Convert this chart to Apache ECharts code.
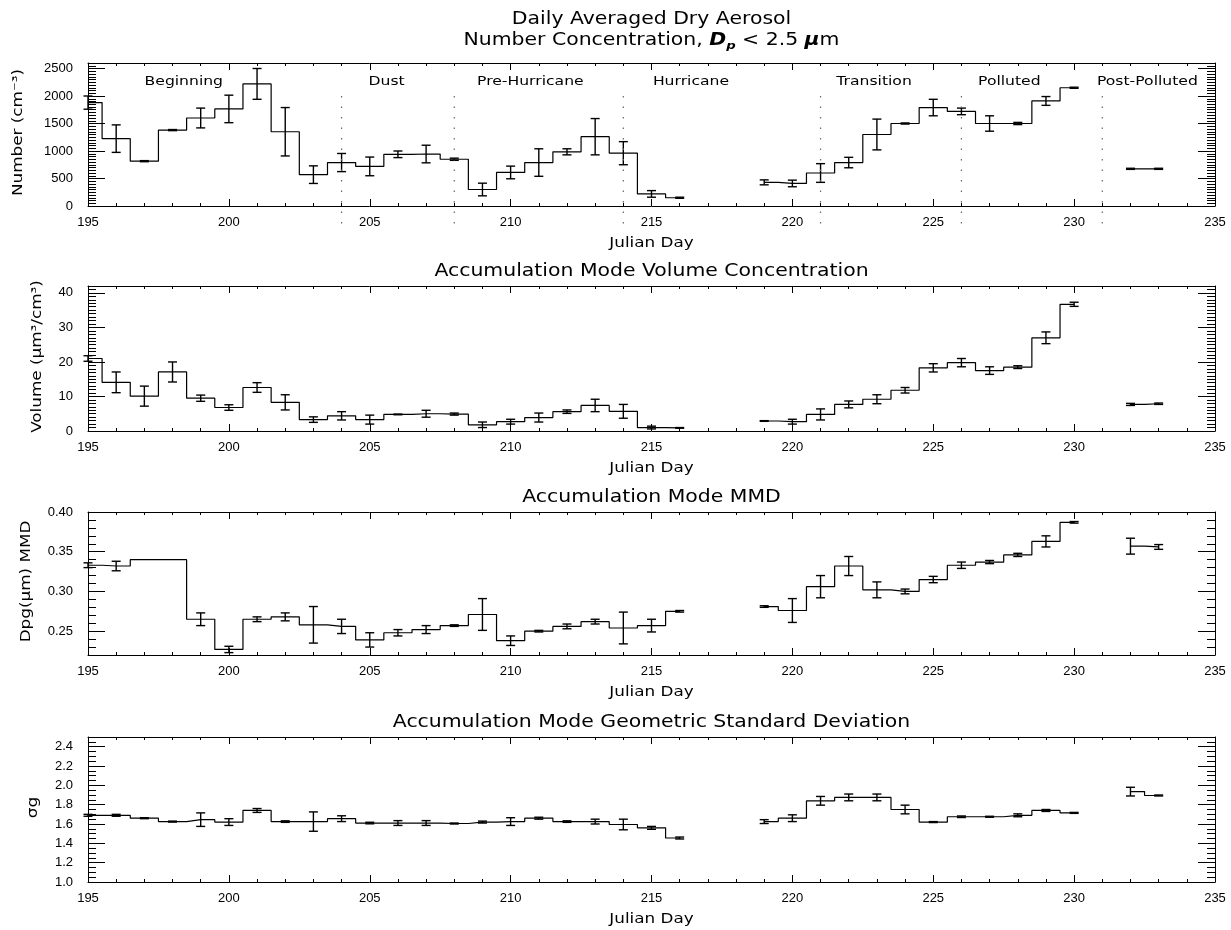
<!DOCTYPE html>
<html>
<head>
<meta charset="utf-8">
<title>Daily Averaged Dry Aerosol</title>
<script src="https://cdn.jsdelivr.net/npm/echarts@6/dist/echarts.min.js"></script>
<style>
  html, body { margin: 0; padding: 0; background: #fff; }
  #chart { width: 1231px; height: 930px; }
</style>
</head>
<body>
<div id="chart"></div>
<script>
// ---- Data: Julian day and daily averages (null = no sample that day) ----
const days = [195, 196, 197, 198, 199, 200, 201, 202, 203, 204, 205, 206, 207, 208, 209, 210,
              211, 212, 213, 214, 215, 216, 217, 218, 219, 220, 221, 222, 223, 224, 225, 226,
              227, 228, 229, 230, 231, 232, 233];

// Number concentration, Dp < 2.5 um (cm^-3)
const numberConc = [1880, 1225, 815, 1380, 1600, 1765, 2220, 1350, 570, 790, 720, 940, 945, 850, 300, 610,
                    790, 985, 1260, 960, 220, 150, null, null, 430, 410, 600, 790, 1300, 1500, 1790, 1720,
                    1500, 1500, 1910, 2150, null, 676, 676];
const numberErr  = [120, 250, 10, 10, 180, 250, 280, 440, 160, 165, 170, 60, 160, 20, 115, 115,
                    250, 55, 330, 210, 60, 10, null, null, 45, 60, 170, 95, 280, 10, 150, 60,
                    140, 20, 80, 10, null, 10, 10];

// Accumulation mode volume concentration (um^3/cm^3)
const volumeConc = [21.0, 14.1, 10.1, 17.1, 9.5, 6.8, 12.6, 8.3, 3.3, 4.4, 3.3, 4.8, 5.0, 4.9, 1.8, 2.7,
                    3.9, 5.6, 7.4, 5.7, 1.0, 0.9, null, null, 2.9, 2.7, 4.8, 7.7, 9.2, 11.8, 18.3, 19.8,
                    17.5, 18.5, 27.0, 36.7, null, 7.7, 7.9];
const volumeErr  = [0.8, 3.0, 2.9, 2.9, 0.9, 0.8, 1.4, 2.2, 0.8, 1.2, 1.3, 0.1, 1.0, 0.3, 0.8, 0.7,
                    1.3, 0.5, 1.8, 2.0, 0.4, 0.1, null, null, 0.1, 0.7, 1.6, 1.0, 1.3, 0.8, 1.2, 1.2,
                    1.1, 0.4, 1.7, 0.6, null, 0.3, 0.2];

// Accumulation mode mass median diameter Dpg (um)
const mmd    = [0.333, 0.332, 0.340, 0.340, 0.265, 0.227, 0.265, 0.268, 0.258, 0.256, 0.239, 0.248, 0.252, 0.257, 0.271, 0.238,
                0.250, 0.256, 0.262, 0.254, 0.257, 0.275, null, null, 0.281, 0.276, 0.306, 0.332, 0.302, 0.300, 0.315, 0.333,
                0.337, 0.346, 0.363, 0.387, null, 0.357, 0.356];
const mmdErr = [0.003, 0.006, null, null, 0.008, 0.004, 0.003, 0.005, 0.023, 0.009, 0.009, 0.004, 0.005, 0.001, 0.020, 0.006,
                0.001, 0.003, 0.003, 0.020, 0.008, 0.001, null, null, 0.001, 0.015, 0.014, 0.012, 0.010, 0.003, 0.004, 0.004,
                0.002, 0.002, 0.007, 0.001, null, 0.010, 0.003];

// Accumulation mode geometric standard deviation
const gsd    = [1.69, 1.69, 1.66, 1.625, 1.645, 1.62, 1.74, 1.625, 1.625, 1.655, 1.61, 1.61, 1.61, 1.605, 1.62, 1.625,
                1.66, 1.625, 1.625, 1.595, 1.56, 1.455, null, null, 1.625, 1.66, 1.84, 1.875, 1.875, 1.75, 1.62, 1.675,
                1.675, 1.69, 1.74, 1.715, null, 1.935, 1.895];
const gsdErr = [0.01, 0.01, 0.005, 0.005, 0.07, 0.035, 0.02, 0.008, 0.10, 0.03, 0.008, 0.025, 0.025, 0.005, 0.01, 0.04,
                0.01, 0.008, 0.025, 0.055, 0.015, 0.01, null, null, 0.02, 0.035, 0.045, 0.035, 0.035, 0.045, 0.005, 0.008,
                0.005, 0.015, 0.01, 0.005, null, 0.045, 0.005];

// Campaign phases (top panel)
const phaseNames   = ['Beginning', 'Dust', 'Pre-Hurricane', 'Hurricane', 'Transition', 'Polluted', 'Post-Polluted'];
const phaseCenters = [198.4, 205.6, 210.7, 216.4, 222.9, 227.7, 232.6];
const phaseBounds  = [204, 208, 214, 221, 226, 231];

// Axis tick labels
const dayTicks     = [195, 200, 205, 210, 215, 220, 225, 230, 235];
const numberTicks  = [0, 500, 1000, 1500, 2000, 2500];
const volumeTicks  = [0, 10, 20, 30, 40];
const mmdTicks     = [0.25, 0.30, 0.35, 0.40];
const gsdTicks     = [1.0, 1.2, 1.4, 1.6, 1.8, 2.0, 2.2, 2.4];

// ---- Layout / styling ----
const PLOT_LEFT = 88, PLOT_WIDTH = 1127;
const PLOT_CX = PLOT_LEFT + PLOT_WIDTH / 2;
const FONT = '"DejaVu Sans", sans-serif';
const TICK_FONT = '"Liberation Sans", Arial, sans-serif';
const WIDE = 1.2;            // horizontal stretch of the lettering
const CAP_HALF = 0.16;       // error-bar cap half width, in days
const INK = '#000';

function steps(min, max, step) {
  const out = [];
  const n = Math.round((max - min) / step);
  for (let k = 0; k <= n; k++) out.push(+(min + k * step).toFixed(6));
  return out;
}

// split a daily series into contiguous runs so each run starts/ends at its own points
function runs(vals) {
  const out = [];
  let cur = [];
  days.forEach((d, k) => {
    if (vals[k] == null) {
      if (cur.length) out.push(cur);
      cur = [];
    } else {
      cur.push([d, vals[k]]);
    }
  });
  if (cur.length) out.push(cur);
  return out;
}

const panels = [
  { top: 63,  height: 143, values: numberConc, errors: numberErr, min: 0,    max: 2600, ticks: numberTicks, minor: 50,
    fmt: v => String(v), yName: 'Number (cm\u207B\u00B3)', yNameX: 18 },
  { top: 286, height: 145, values: volumeConc, errors: volumeErr, min: 0,    max: 42,   ticks: volumeTicks, minor: 1,
    fmt: v => String(v), yName: 'Volume (\u03BCm\u00B3/cm\u00B3)', yNameX: 37, title: 'Accumulation Mode Volume Concentration' },
  { top: 512, height: 143, values: mmd,        errors: mmdErr,    min: 0.22, max: 0.40, ticks: mmdTicks,    minor: 0.01,
    fmt: v => v.toFixed(2), yName: 'Dpg(\u03BCm) MMD', yNameX: 26, title: 'Accumulation Mode MMD' },
  { top: 737, height: 145, values: gsd,        errors: gsdErr,    min: 1.0,  max: 2.5,  ticks: gsdTicks,    minor: 0.05,
    fmt: v => v.toFixed(1), yName: '\u03C3g', yNameX: 33, title: 'Accumulation Mode Geometric Standard Deviation' }
];

const dayMinors = steps(195, 235, 1);
const axisLineStyle = { color: INK, width: 1 };

const grids = [], xAxes = [], yAxes = [], series = [], graphics = [];

function text(x, y, str, size, extra) {
  return Object.assign({
    type: 'text', x: x, y: y, scaleX: WIDE, silent: true,
    style: {
      text: str, fill: INK, font: size + 'px ' + FONT,
      align: 'center', verticalAlign: 'middle', textAlign: 'center', textVerticalAlign: 'middle'
    }
  }, extra || {});
}

panels.forEach((p, i) => {
  grids.push({ left: PLOT_LEFT, top: p.top, width: PLOT_WIDTH, height: p.height, containLabel: false, outerBoundsMode: 'none' });

  const xBase = { gridIndex: i, type: 'value', min: 195, max: 235, splitLine: { show: false } };
  // bottom: line, major ticks + labels
  xAxes.push(Object.assign({}, xBase, {
    position: 'bottom',
    axisLine: { show: true, onZero: false, lineStyle: axisLineStyle },
    axisTick: { show: true, inside: true, length: 7, customValues: dayTicks, lineStyle: axisLineStyle },
    axisLabel: { show: true, customValues: dayTicks, margin: 10, color: INK, fontSize: 13, fontFamily: TICK_FONT }
  }));
  // bottom: minor ticks
  xAxes.push(Object.assign({}, xBase, {
    position: 'bottom',
    axisLine: { show: false, onZero: false },
    axisTick: { show: true, inside: true, length: 3, customValues: dayMinors, lineStyle: axisLineStyle },
    axisLabel: { show: false }
  }));
  // top: line + major ticks
  xAxes.push(Object.assign({}, xBase, {
    position: 'top',
    axisLine: { show: true, onZero: false, lineStyle: axisLineStyle },
    axisTick: { show: true, inside: true, length: 7, customValues: dayTicks, lineStyle: axisLineStyle },
    axisLabel: { show: false }
  }));
  // top: minor ticks
  xAxes.push(Object.assign({}, xBase, {
    position: 'top',
    axisLine: { show: false, onZero: false },
    axisTick: { show: true, inside: true, length: 3, customValues: dayMinors, lineStyle: axisLineStyle },
    axisLabel: { show: false }
  }));

  const yMinors = steps(p.min, p.max, p.minor);
  const yBase = { gridIndex: i, type: 'value', min: p.min, max: p.max, splitLine: { show: false } };
  yAxes.push(Object.assign({}, yBase, {
    position: 'left',
    axisLine: { show: true, onZero: false, lineStyle: axisLineStyle },
    axisTick: { show: true, inside: true, length: 17, customValues: p.ticks, lineStyle: axisLineStyle },
    axisLabel: { show: true, customValues: p.ticks, formatter: p.fmt, margin: 15, color: INK, fontSize: 13, fontFamily: TICK_FONT }
  }));
  yAxes.push(Object.assign({}, yBase, {
    position: 'left',
    axisLine: { show: false, onZero: false },
    axisTick: { show: true, inside: true, length: 8, customValues: yMinors, lineStyle: axisLineStyle },
    axisLabel: { show: false }
  }));
  yAxes.push(Object.assign({}, yBase, {
    position: 'right',
    axisLine: { show: true, onZero: false, lineStyle: axisLineStyle },
    axisTick: { show: true, inside: true, length: 17, customValues: p.ticks, lineStyle: axisLineStyle },
    axisLabel: { show: false }
  }));
  yAxes.push(Object.assign({}, yBase, {
    position: 'right',
    axisLine: { show: false, onZero: false },
    axisTick: { show: true, inside: true, length: 8, customValues: yMinors, lineStyle: axisLineStyle },
    axisLabel: { show: false }
  }));

  const xi = i * 4, yi = i * 4;

  // daily averages drawn as a histogram-style step line, one piece per sampling run
  runs(p.values).forEach(run => {
    series.push({
      type: 'line', xAxisIndex: xi, yAxisIndex: yi,
      step: 'middle', symbol: 'none', showSymbol: false,
      lineStyle: { color: INK, width: 1.2 },
      data: run,
      silent: true
    });
  });

  // +/- one standard deviation error bars with caps
  const errData = [];
  days.forEach((d, k) => {
    if (p.values[k] != null && p.errors[k] != null) errData.push([d, p.values[k], p.errors[k]]);
  });
  series.push({
    type: 'custom', xAxisIndex: xi, yAxisIndex: yi, silent: true,
    encode: { x: 0, y: 1 },
    data: errData,
    renderItem: function (params, api) {
      const x = api.value(0), v = api.value(1), e = api.value(2);
      const hi = api.coord([x, v + e]), lo = api.coord([x, v - e]);
      const hw = api.size([CAP_HALF, 0])[0];
      const style = { stroke: INK, lineWidth: 1.4, fill: null };
      return {
        type: 'group',
        children: [
          { type: 'line', shape: { x1: hi[0], y1: hi[1], x2: lo[0], y2: lo[1] }, style: style },
          { type: 'line', shape: { x1: hi[0] - hw, y1: hi[1], x2: hi[0] + hw, y2: hi[1] }, style: style },
          { type: 'line', shape: { x1: lo[0] - hw, y1: lo[1], x2: lo[0] + hw, y2: lo[1] }, style: style }
        ]
      };
    }
  });

  // titles and axis names
  if (p.title) graphics.push(text(PLOT_CX, p.top - 14, p.title, 17));
  graphics.push(text(PLOT_CX, p.top + p.height + 37, 'Julian Day', 14));
  graphics.push(text(p.yNameX, p.top + p.height / 2 - 2, p.yName, 14, { rotation: Math.PI / 2 }));
});

// phase boundaries (dotted) and phase names in the top panel
const DIVIDER_TOP = 2000, DIVIDER_BOTTOM = -400, PHASE_LABEL_Y = 2270;
series.push({
  type: 'custom', xAxisIndex: 0, yAxisIndex: 0, silent: true, clip: false,
  encode: { x: 0, y: 1 },
  data: phaseBounds.map(d => [d, DIVIDER_TOP]),
  renderItem: function (params, api) {
    const a = api.coord([api.value(0), DIVIDER_TOP]);
    const b = api.coord([api.value(0), DIVIDER_BOTTOM]);
    return {
      type: 'line', shape: { x1: a[0], y1: a[1], x2: b[0], y2: b[1] },
      style: { stroke: '#666', lineWidth: 1.2, lineDash: [1.5, 9], fill: null }
    };
  }
});
series.push({
  type: 'custom', xAxisIndex: 0, yAxisIndex: 0, silent: true, clip: false,
  encode: { x: 0, y: 1 },
  data: phaseCenters.map(c => [c, PHASE_LABEL_Y]),
  renderItem: function (params, api) {
    const pt = api.coord([api.value(0), PHASE_LABEL_Y]);
    return {
      type: 'text', x: pt[0], y: pt[1], scaleX: WIDE,
      style: {
        text: phaseNames[params.dataIndex], fill: INK, font: '13px ' + FONT,
        align: 'center', verticalAlign: 'middle', textAlign: 'center', textVerticalAlign: 'middle'
      }
    };
  }
});

// two-line main title
graphics.push(text(PLOT_CX, 20, 'Daily Averaged Dry Aerosol', 17));
graphics.push({
  type: 'text', x: PLOT_CX, y: 41, scaleX: WIDE, silent: true,
  style: {
    text: 'Number Concentration, {i|D}{sub|p} < 2.5 {i|\u03BC}m',
    fill: INK, font: '17px ' + FONT,
    align: 'center', verticalAlign: 'middle', textAlign: 'center', textVerticalAlign: 'middle',
    rich: {
      i:   { fontSize: 17, fontFamily: FONT, fontStyle: 'italic', fontWeight: 'bold', fill: INK, lineHeight: 22 },
      sub: { fontSize: 11, fontFamily: FONT, fontStyle: 'italic', fontWeight: 'bold', fill: INK, lineHeight: 12, verticalAlign: 'bottom' }
    }
  }
});

const chart = echarts.init(document.getElementById('chart'), null, { renderer: 'canvas', width: 1231, height: 930 });
chart.setOption({
  backgroundColor: '#fff',
  animation: false,
  grid: grids,
  xAxis: xAxes,
  yAxis: yAxes,
  series: series,
  graphic: graphics
});
</script>
</body>
</html>
